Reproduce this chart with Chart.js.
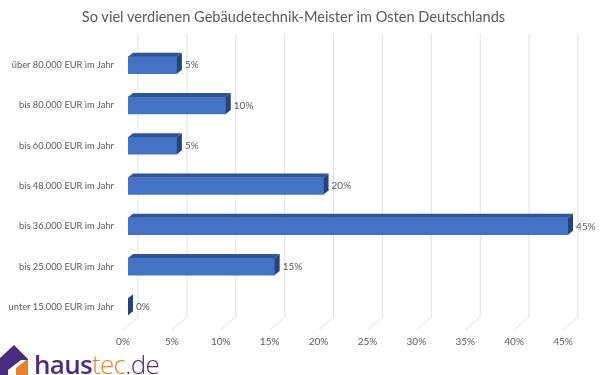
<!DOCTYPE html>
<html lang="de">
<head>
<meta charset="UTF-8">
<title>Gebäudetechnik-Meister Gehalt</title>
<script src="https://cdn.jsdelivr.net/npm/chart.js"></script>
<style>
    html, body { margin: 0; padding: 0; background: #fff; }
    #wrap { position: relative; width: 600px; height: 375px; overflow: hidden; }
    #title { position: absolute; left: 0; top: 8px; width: 587px; text-align: center; font: 14.6px Lato, sans-serif; color: #595959; }
    #logo { position: absolute; left: 0; top: 345px; }
    #logoText { position: absolute; left: 34px; top: 346px; font: 300 26px/36px "Open Sans", sans-serif; letter-spacing: -0.7px; color: #4a2d80; }
    #logoText b { font-weight: 600; }
    #logoText span { color: #e8822c; }
</style>
</head>
<body>
<div id="wrap">
    <canvas id="chart" width="600" height="375"></canvas>
    <div id="title">So viel verdienen Gebäudetechnik-Meister im Osten Deutschlands</div>
    <svg id="logo" width="30" height="30" viewBox="0 0 30 30">
        <path d="M0 13 L14 0 L28 14 L28 15 L21 15 L8 25 L8 30 L0 30 Z" fill="#4a2d80"/>
        <path d="M16 30 L16 23 L26 15 L28 15 L28 30 Z" fill="#e8822c"/>
    </svg>
    <div id="logoText"><b>haus</b><span>tec</span>.de</div>
</div>
<script>
const categories = ['über 80.000 EUR im Jahr', 'bis 80.000 EUR im Jahr', 'bis 60.000 EUR im Jahr', 'bis 48.000 EUR im Jahr', 'bis 36.000 EUR im Jahr', 'bis 25.000 EUR im Jahr', 'unter 15.000 EUR im Jahr'];
const shares = [5, 10, 5, 20, 45, 15, 0];
const xTicks = [0, 5, 10, 15, 20, 25, 30, 35, 40, 45];

const depthX = 5, depthY = 4;

// gridlines on the back wall plus the short slanted bit on the floor
const backWall = {
    id: 'backWall',
    beforeDatasetsDraw(chart) {
        const ctx = chart.ctx, x = chart.scales.x;
        ctx.save();
        ctx.strokeStyle = '#e0e0e0';
        ctx.lineWidth = 1;
        xTicks.forEach(t => {
            const px = x.getPixelForValue(t);
            ctx.beginPath();
            ctx.moveTo(px + 10, 34);
            ctx.lineTo(px + 10, 317);
            ctx.lineTo(px - 5, 330);
            ctx.stroke();
        });
        ctx.restore();
    }
};

// top and side faces of the bars
const bars3d = {
    id: 'bars3d',
    afterDatasetsDraw(chart) {
        const ctx = chart.ctx;
        ctx.save();
        chart.getDatasetMeta(0).data.forEach((bar, i) => {
            const p = bar.getProps(['x', 'y', 'base', 'height']);
            const top = p.y - p.height / 2, bottom = p.y + p.height / 2;
            ctx.fillStyle = '#2f5597';
            ctx.beginPath();
            ctx.moveTo(p.base, top);
            ctx.lineTo(p.base + depthX, top - depthY);
            ctx.lineTo(p.x + depthX, top - depthY);
            ctx.lineTo(p.x, top);
            ctx.closePath();
            ctx.fill();
            ctx.fillStyle = '#264478';
            ctx.beginPath();
            ctx.moveTo(p.x, top);
            ctx.lineTo(p.x + depthX, top - depthY);
            ctx.lineTo(p.x + depthX, bottom - depthY);
            ctx.lineTo(p.x, bottom);
            ctx.closePath();
            ctx.fill();
            ctx.fillStyle = '#595959';
            ctx.font = '10px Lato, sans-serif';
            ctx.textBaseline = 'middle';
            ctx.textAlign = 'left';
            ctx.fillText(shares[i] + '%', p.x + depthX + 3, p.y);
        });
        ctx.restore();
    }
};

new Chart(document.getElementById('chart'), {
    type: 'bar',
    data: {
        labels: categories,
        datasets: [{
            data: shares,
            backgroundColor: '#4472c4',
            barThickness: 17
        }]
    },
    options: {
        indexAxis: 'y',
        responsive: false,
        animation: false,
        layout: { padding: { left: 0, right: 32, top: 45, bottom: 0 } },
        plugins: { legend: { display: false }, tooltip: { enabled: false } },
        scales: {
            x: {
                min: 0,
                max: 45,
                afterFit(s) { s.height = 48; },
                grid: { display: false },
                border: { display: false },
                ticks: {
                    stepSize: 5,
                    maxRotation: 0,
                    labelOffset: -5,
                    padding: 1,
                    color: '#595959',
                    font: { family: 'Lato, sans-serif', size: 10 },
                    callback: v => v + '%'
                }
            },
            y: {
                afterFit(s) { s.width = 128; },
                grid: { display: false },
                border: { display: false },
                ticks: {
                    padding: 6,
                    color: '#595959',
                    font: { family: 'Lato, sans-serif', size: 9.3 }
                }
            }
        }
    },
    plugins: [backWall, bars3d]
});
</script>
</body>
</html>
